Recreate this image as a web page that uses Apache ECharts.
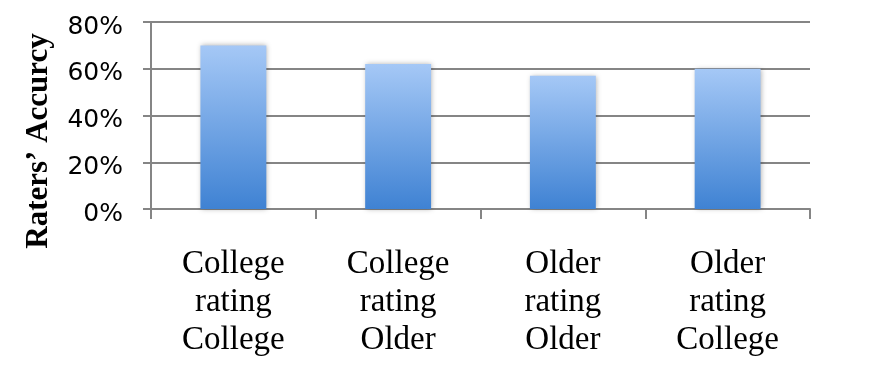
<!DOCTYPE html>
<html>
<head>
<meta charset="utf-8">
<script src="https://cdn.jsdelivr.net/npm/echarts@6/dist/echarts.min.js"></script>
<style>
html,body{margin:0;padding:0;background:#fff;}
#main{width:892px;height:382px;}
</style>
</head>
<body>
<div id="main"></div>
<script>
var groups = ['College\nrating\nCollege', 'College\nrating\nOlder', 'Older\nrating\nOlder', 'Older\nrating\nCollege'];
var accuracy = [70, 62, 57, 60];
var yTicks = [0, 20, 40, 60, 80];
var yTitle = "Raters\u2019 Accurcy";

var myChart = echarts.init(document.getElementById('main'));
var lineColor = '#858585';

option = {
    animation: false,
    backgroundColor: '#fff',
    grid: {
        left: 151,
        right: 82,
        top: 22,
        bottom: 173
    },
    xAxis: {
        type: 'category',
        data: groups,
        axisLine: { lineStyle: { color: lineColor, width: 2 } },
        axisTick: { show: true, length: 10, lineStyle: { color: lineColor, width: 2 } },
        axisLabel: {
            margin: 36,
            color: '#000',
            fontFamily: 'Liberation Serif',
            fontSize: 33,
            lineHeight: 38
        }
    },
    yAxis: {
        type: 'value',
        min: yTicks[0],
        max: yTicks[yTicks.length - 1],
        interval: 20,
        axisLine: { show: true, lineStyle: { color: lineColor, width: 2 } },
        axisTick: { show: true, length: 8, lineStyle: { color: lineColor, width: 2 } },
        splitLine: { lineStyle: { color: lineColor, width: 2 } },
        axisLabel: {
            margin: 28,
            formatter: '{p|{value}%}',
            rich: {
                p: {
                    color: '#000',
                    fontFamily: 'DejaVu Sans',
                    fontSize: 25,
                    padding: [10, 0, 0, 0]
                }
            }
        }
    },
    graphic: [{
        type: 'text',
        x: 39,
        y: 141,
        rotation: Math.PI / 2,
        style: {
            text: yTitle,
            fontFamily: 'Liberation Serif',
            fontWeight: 'bold',
            fontSize: 31,
            fill: '#000',
            textAlign: 'center',
            textVerticalAlign: 'middle'
        }
    }],
    series: [{
        type: 'bar',
        data: accuracy,
        barCategoryGap: '60%',
        itemStyle: {
            color: new echarts.graphic.LinearGradient(0, 0, 0, 1, [
                { offset: 0, color: '#a5c8f6' },
                { offset: 1, color: '#3f82d3' }
            ]),
            shadowBlur: 5,
            shadowColor: 'rgba(0,0,0,0.3)',
            shadowOffsetX: 1,
            shadowOffsetY: 0
        }
    }]
};
myChart.setOption(option);
</script>
</body>
</html>
